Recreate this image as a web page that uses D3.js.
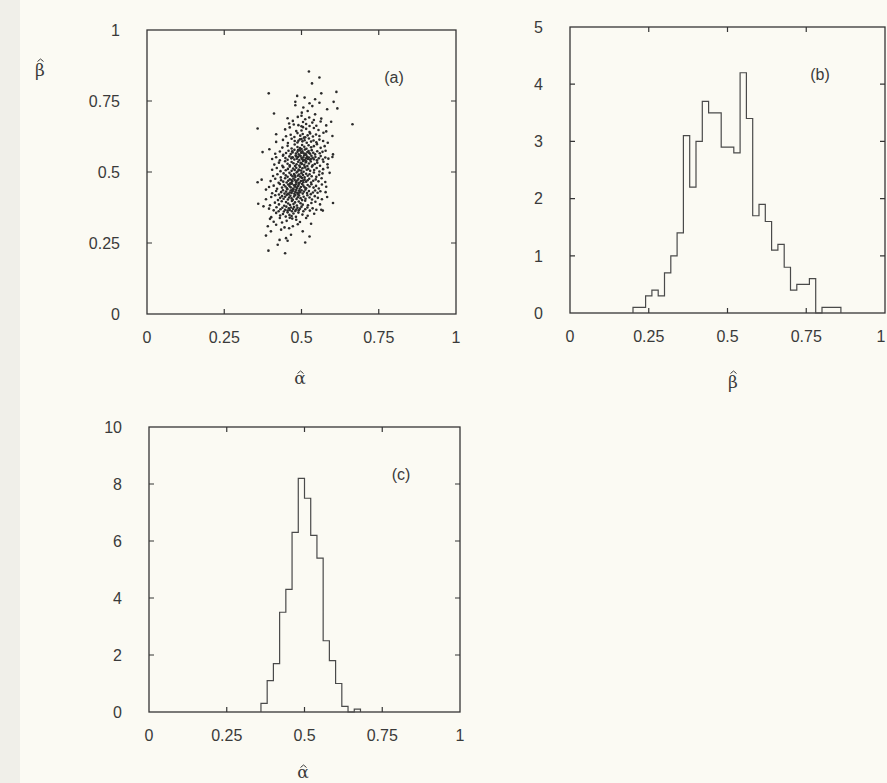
<!DOCTYPE html>
<html lang="en">
<head>
  <meta charset="UTF-8">
  <title>Estimates of alpha and beta</title>
  <script src="https://d3js.org/d3.v7.min.js"></script>
  <style>
    body { margin: 0; background: #fbfaf3; }
    text { font-family: "Liberation Sans", Arial, sans-serif; fill: #3a3a3a; }
    .frame { fill: none; stroke: #353535; stroke-width: 1.3px; }
    .tick { stroke: #353535; stroke-width: 1.2px; }
    .hist { fill: none; stroke: #4a4a4a; stroke-width: 1.2px; }
    .dot { fill: #2b2b2b; }
    .sym { font-family: "DejaVu Serif", "Liberation Serif", serif; }
    .hat { fill: none; stroke: #3a3a3a; stroke-width: 1px; }
  </style>
</head>
<body>
  <div id="chart"></div>
  <script>
    const width = 887, height = 783;

    // (a) joint sample of (alpha-hat, beta-hat)
    const scatterPoints = [
      [.447,.214],[.393,.223],
      [.423,.244],[.512,.252],[.455,.258],
      [.429,.261],[.45,.267],[.466,.279],[.526,.273],[.385,.276],
      [.401,.291],[.434,.297],[.504,.291],
      [.391,.309],[.418,.314],[.472,.309],[.531,.318],[.445,.305],[.488,.316],[.46,.302],
      [.483,.332],[.41,.325],[.43,.338],[.452,.328],[.47,.336],[.495,.324],[.515,.338],[.437,.322],[.398,.335],[.462,.339],
      [.402,.341],[.418,.356],[.431,.347],[.44,.352],[.449,.343],[.455,.358],[.461,.349],[.468,.345],[.474,.354],[.482,.342],[.49,.357],[.503,.35],[.52,.346],[.541,.353],
      [.377,.379],[.395,.371],[.41,.365],[.419,.376],[.426,.362],[.432,.369],[.438,.374],[.443,.361],[.447,.367],[.451,.378],[.455,.364],[.459,.372],[.462,.366],[.466,.375],[.469,.362],[.473,.37],[.476,.377],[.48,.363],[.483,.368],[.487,.374],[.491,.365],[.495,.371],[.5,.378],[.506,.362],[.512,.369],[.519,.375],[.527,.364],[.536,.372],[.548,.367],[.564,.367],[.569,.364],
      [.36,.388],[.398,.383],[.414,.392],[.427,.386],[.436,.397],[.444,.381],[.45,.394],[.457,.389],[.463,.384],[.469,.398],[.474,.387],[.479,.393],[.485,.382],[.491,.396],[.497,.39],[.504,.385],[.512,.399],[.521,.383],[.532,.391],[.545,.395],[.56,.386],[.602,.391],
      [.385,.404],[.402,.412],[.415,.418],[.424,.401],[.431,.409],[.437,.415],[.442,.406],[.447,.413],[.452,.419],[.456,.403],[.46,.41],[.464,.416],[.468,.407],[.472,.402],[.476,.414],[.48,.419],[.484,.405],[.488,.411],[.492,.417],[.497,.408],[.502,.401],[.507,.413],[.513,.406],[.519,.418],[.526,.41],[.534,.403],[.543,.415],[.553,.409],[.566,.404],[.583,.412],
      [.385,.438],[.405,.425],[.418,.433],[.427,.421],[.434,.429],[.44,.436],[.445,.424],[.45,.431],[.454,.439],[.458,.422],[.462,.428],[.465,.435],[.468,.426],[.471,.432],[.474,.438],[.477,.423],[.48,.43],[.483,.437],[.486,.427],[.489,.421],[.492,.434],[.496,.429],[.5,.436],[.504,.424],[.508,.431],[.513,.438],[.518,.426],[.524,.433],[.53,.422],[.537,.428],[.544,.435],[.552,.427],[.561,.432],[.578,.429],[.47,.437],[.455,.423],[.49,.425],
      [.395,.447],[.41,.452],[.421,.441],[.43,.458],[.437,.445],[.443,.454],[.448,.449],[.453,.443],[.457,.456],[.461,.451],[.465,.446],[.469,.459],[.473,.442],[.476,.453],[.479,.448],[.482,.457],[.485,.444],[.488,.45],[.491,.455],[.494,.441],[.498,.447],[.502,.458],[.506,.452],[.51,.446],[.515,.443],[.52,.454],[.526,.449],[.532,.457],[.539,.445],[.547,.451],[.556,.442],[.566,.456],[.58,.448],[.478,.453],[.463,.459],
      [.358,.464],[.371,.473],[.4,.468],[.415,.476],[.426,.462],[.434,.471],[.441,.466],[.447,.478],[.452,.463],[.457,.469],[.462,.474],[.466,.461],[.47,.467],[.474,.477],[.478,.472],[.482,.465],[.486,.47],[.49,.475],[.494,.462],[.498,.468],[.502,.479],[.506,.464],[.51,.473],[.515,.466],[.52,.471],[.525,.476],[.531,.463],[.538,.469],[.546,.474],[.555,.467],[.565,.478],[.577,.465],[.49,.461],[.468,.472],[.505,.47],
      [.408,.486],[.422,.492],[.433,.481],[.442,.495],[.449,.488],[.455,.483],[.461,.497],[.466,.49],[.471,.485],[.476,.493],[.48,.482],[.484,.498],[.488,.487],[.492,.491],[.496,.484],[.5,.496],[.505,.489],[.51,.481],[.515,.494],[.52,.487],[.526,.492],[.533,.485],[.54,.498],[.548,.483],[.557,.49],[.568,.495],[.591,.497],[.478,.488],[.498,.482],
      [.405,.508],[.42,.514],[.432,.503],[.441,.517],[.449,.506],[.456,.511],[.462,.519],[.468,.504],[.473,.512],[.478,.507],[.483,.515],[.487,.502],[.491,.509],[.495,.518],[.499,.505],[.503,.513],[.507,.501],[.512,.516],[.517,.508],[.522,.511],[.528,.504],[.534,.519],[.541,.507],[.549,.514],[.558,.502],[.57,.51],[.585,.516],[.492,.506],[.51,.518],
      [.412,.526],[.427,.533],[.438,.522],[.447,.538],[.455,.529],[.462,.524],[.468,.535],[.474,.531],[.479,.521],[.484,.527],[.489,.536],[.493,.523],[.497,.532],[.501,.528],[.505,.539],[.509,.525],[.514,.534],[.519,.521],[.524,.53],[.53,.537],[.536,.524],[.543,.528],[.551,.533],[.56,.522],[.571,.536],[.584,.527],[.5,.531],[.515,.538],
      [.405,.546],[.418,.552],[.43,.541],[.44,.557],[.448,.549],[.455,.543],[.461,.555],[.467,.548],[.472,.551],[.477,.544],[.481,.558],[.485,.547],[.489,.553],[.493,.542],[.497,.556],[.5,.549],[.503,.545],[.506,.552],[.509,.559],[.512,.541],[.515,.548],[.518,.554],[.521,.546],[.524,.551],[.528,.543],[.532,.557],[.536,.55],[.54,.545],[.545,.553],[.55,.541],[.556,.548],[.562,.556],[.569,.544],[.577,.551],[.587,.547],[.6,.553],[.495,.558],[.508,.542],[.52,.55],[.483,.555],[.53,.546],[.47,.552],
      [.374,.57],[.415,.564],[.43,.572],[.441,.561],[.45,.567],[.458,.575],[.465,.563],[.471,.569],[.477,.578],[.482,.565],[.487,.571],[.491,.562],[.495,.576],[.499,.568],[.503,.573],[.507,.566],[.511,.579],[.515,.561],[.519,.57],[.523,.574],[.528,.564],[.533,.577],[.538,.568],[.544,.562],[.551,.573],[.559,.566],[.568,.571],[.578,.575],[.602,.562],[.5,.569],[.513,.564],[.489,.577],[.525,.567],[.47,.573],
      [.396,.58],[.438,.586],[.455,.592],[.468,.583],[.478,.597],[.487,.588],[.495,.584],[.502,.595],[.509,.589],[.516,.582],[.523,.594],[.531,.587],[.54,.591],[.55,.598],[.562,.585],[.575,.591],[.5,.581],
      [.418,.606],[.44,.613],[.456,.602],[.468,.617],[.478,.609],[.487,.604],[.495,.615],[.503,.608],[.51,.612],[.517,.603],[.524,.618],[.531,.607],[.539,.611],[.548,.605],[.558,.614],[.57,.609],[.585,.603],[.5,.616],[.49,.61],
      [.418,.633],[.45,.626],[.465,.631],[.477,.623],[.487,.637],[.496,.628],[.504,.634],[.512,.622],[.52,.629],[.528,.636],[.537,.625],[.547,.632],[.558,.627],[.571,.638],[.6,.627],[.508,.621],
      [.358,.653],[.447,.65],[.483,.644],[.462,.657],[.5,.646],[.515,.652],[.526,.641],[.54,.655],[.555,.648],[.58,.643],[.505,.658],
      [.665,.668],[.526,.662],[.58,.664],[.46,.671],[.49,.665],[.505,.676],[.515,.669],[.535,.674],[.548,.663],[.562,.678],[.5,.661],[.475,.667],[.596,.677],
      [.512,.686],[.564,.688],[.472,.68],[.488,.694],[.525,.692],[.54,.683],[.5,.698],[.455,.689],
      [.411,.706],[.501,.709],[.544,.703],[.52,.715],
      [.506,.727],[.583,.721],[.616,.724],[.48,.735],[.535,.732],
      [.48,.747],[.526,.742],[.558,.744],[.604,.747],[.544,.756],
      [.486,.768],[.51,.762],[.394,.777],[.564,.777],
      [.613,.782],[.534,.812],[.558,.833],[.524,.854]
    ];

    // (b) histogram of beta-hat, bin width 0.02
    const betaBinEdges = [0.20,0.22,0.24,0.26,0.28,0.30,0.32,0.34,0.36,0.38,0.40,0.42,0.44,0.46,0.48,0.50,0.52,
                          0.54,0.56,0.58,0.60,0.62,0.64,0.66,0.68,0.70,0.72,0.74,0.76,0.78,0.80,0.82,0.84,0.86];
    const betaDensity = [0.1,0.1,0.3,0.4,0.3,0.7,1.0,1.4,3.1,2.2,3.0,3.7,3.5,3.5,2.9,2.9,2.8,
                         4.2,3.4,1.7,1.9,1.6,1.1,1.2,0.8,0.4,0.5,0.5,0.6,0,0.1,0.1,0.1];

    // (c) histogram of alpha-hat, bin width 0.02
    const alphaBinEdges = [0.36,0.38,0.40,0.42,0.44,0.46,0.48,0.50,0.52,0.54,0.56,0.58,0.60,0.62,0.64,0.66,0.68];
    const alphaDensity = [0.3,1.1,1.7,3.5,4.3,6.3,8.2,7.5,6.2,5.4,2.5,1.8,1.0,0.2,0,0.1];

    const unitTicks = [0, 0.25, 0.5, 0.75, 1];
    const betaDensityTicks = [0, 1, 2, 3, 4, 5];
    const alphaDensityTicks = [0, 2, 4, 6, 8, 10];

    const svg = d3.select("#chart").append("svg")
      .attr("width", width)
      .attr("height", height);

    // slightly darker gutter strip of the scanned page
    svg.append("rect").attr("x", 0).attr("y", 0).attr("width", 20).attr("height", height)
      .attr("fill", "#f0efe9");

    function panel(xRange, yRange, yDomain, xTicks, yTicks) {
      const x = d3.scaleLinear().domain([0, 1]).range(xRange);
      const y = d3.scaleLinear().domain(yDomain).range(yRange);
      const g = svg.append("g");

      g.append("rect").attr("class", "frame")
        .attr("x", xRange[0]).attr("y", yRange[1])
        .attr("width", xRange[1] - xRange[0]).attr("height", yRange[0] - yRange[1]);

      const tl = 5;
      const innerX = xTicks.slice(1, -1), innerY = yTicks.slice(1, -1);
      g.selectAll(".xt").data(innerX).enter().append("path").attr("class", "tick")
        .attr("d", d => `M${x(d)},${yRange[0]}v${-tl}M${x(d)},${yRange[1]}v${tl}`);
      g.selectAll(".yt").data(innerY).enter().append("path").attr("class", "tick")
        .attr("d", d => `M${xRange[0]},${y(d)}h${tl}M${xRange[1]},${y(d)}h${-tl}`);

      g.selectAll(".xl").data(xTicks).enter().append("text")
        .attr("x", d => Math.min(x(d), width - 6)).attr("y", yRange[0] + 29)
        .attr("text-anchor", "middle").attr("font-size", 16)
        .text(d => String(d));
      g.selectAll(".yl").data(yTicks).enter().append("text")
        .attr("x", xRange[0] - 27).attr("y", d => y(d)).attr("dy", "0.36em")
        .attr("text-anchor", "end").attr("font-size", 16)
        .text(d => String(d));
      return { g, x, y };
    }

    // symbol with a small drawn circumflex above it
    function hatLabel(cx, cy, sym, top) {
      svg.append("text").attr("class", "sym").attr("x", cx).attr("y", cy)
        .attr("text-anchor", "middle").attr("font-size", 17).text(sym);
      svg.append("path").attr("class", "hat")
        .attr("d", `M${cx - 2.5},${cy - top + 2.5}L${cx + 0.5},${cy - top}L${cx + 3.5},${cy - top + 2.5}`);
    }

    function histogram(p, edges, dens) {
      const pts = [[edges[0], 0]];
      dens.forEach((v, i) => { pts.push([edges[i], v]); pts.push([edges[i + 1], v]); });
      pts.push([edges[edges.length - 1], 0]);
      p.g.append("path").attr("class", "hist")
        .attr("d", d3.line().x(d => p.x(d[0])).y(d => p.y(d[1]))(pts));
    }

    // (a) scatter
    const pa = panel([147, 456], [314, 30], [0, 1], unitTicks, unitTicks);
    pa.g.selectAll("circle").data(scatterPoints).enter().append("circle")
      .attr("class", "dot")
      .attr("cx", d => pa.x(d[0])).attr("cy", d => pa.y(d[1]))
      .attr("r", 1.3);
    pa.g.append("text").attr("x", 394).attr("y", 83).attr("text-anchor", "middle")
      .attr("font-size", 16).text("(a)");
    hatLabel(40, 76, "\u03B2", 17);
    hatLabel(300, 384, "\u03B1", 13);

    // (b) beta histogram
    const pb = panel([570, 885], [313, 27], [0, 5], unitTicks, betaDensityTicks);
    histogram(pb, betaBinEdges, betaDensity);
    pb.g.append("text").attr("x", 820).attr("y", 80).attr("text-anchor", "middle")
      .attr("font-size", 16).text("(b)");
    hatLabel(733, 388, "\u03B2", 17);

    // (c) alpha histogram
    const pc = panel([149, 460], [712, 427], [0, 10], unitTicks, alphaDensityTicks);
    histogram(pc, alphaBinEdges, alphaDensity);
    pc.g.append("text").attr("x", 401).attr("y", 480).attr("text-anchor", "middle")
      .attr("font-size", 16).text("(c)");
    hatLabel(303, 778, "\u03B1", 13);
  </script>
</body>
</html>
